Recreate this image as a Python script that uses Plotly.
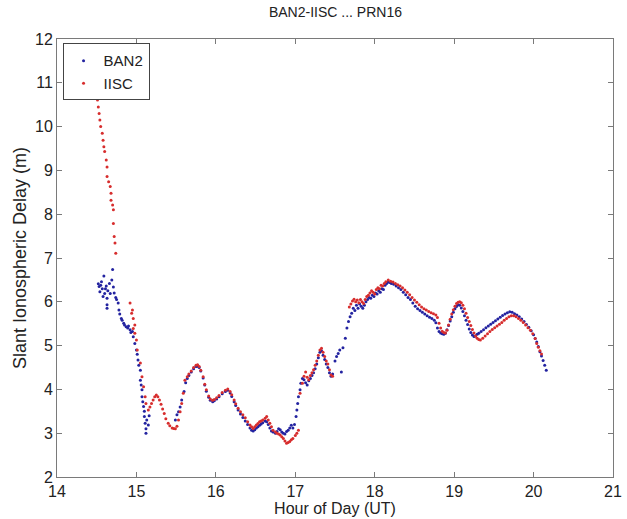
import plotly.graph_objects as go

# ---- IISC (red) ----
iisc_hour = [
    14.50, 14.50, 14.51, 14.52, 14.53, 14.54, 14.55, 14.57, 14.58, 14.59, 14.60, 14.62,
    14.63, 14.63, 14.65, 14.67, 14.68, 14.68, 14.70, 14.71, 14.71, 14.72, 14.73, 14.74,
    14.92, 14.94, 14.95, 14.96, 14.96, 14.98, 14.98, 15.00, 15.01, 15.05, 15.07, 15.09,
    15.11, 15.12, 15.15, 15.17, 15.19, 15.21, 15.23, 15.25, 15.27, 15.29, 15.31, 15.33,
    15.35, 15.37, 15.40, 15.42, 15.45, 15.47, 15.49, 15.51, 15.53, 15.55, 15.57, 15.59,
    15.61, 15.64, 15.66, 15.69, 15.72, 15.75, 15.77, 15.79, 15.81, 15.84, 15.86, 15.88,
    15.91, 15.93, 15.96, 15.98, 16.01, 16.04, 16.08, 16.12, 16.15, 16.18, 16.20, 16.23,
    16.25, 16.28, 16.31, 16.34, 16.37, 16.40, 16.43, 16.45, 16.47, 16.49, 16.51, 16.53,
    16.55, 16.57, 16.59, 16.62, 16.64, 16.66, 16.68, 16.70, 16.72, 16.75, 16.77, 16.79,
    16.81, 16.83, 16.85, 16.87, 16.89, 16.91, 16.93, 16.95, 16.97, 17.00, 17.02, 17.04,
    17.06, 17.09, 17.11, 17.13, 17.15, 17.17, 17.19, 17.21, 17.23, 17.25, 17.27, 17.29,
    17.31, 17.33, 17.35, 17.37, 17.39, 17.41, 17.43, 17.45, 17.47,
    17.68, 17.70, 17.72, 17.74, 17.76, 17.78, 17.80, 17.82, 17.84, 17.86, 17.88, 17.90,
    17.92, 17.94, 17.96, 17.98, 18.00, 18.02, 18.04, 18.06, 18.08, 18.10, 18.12, 18.14,
    18.17, 18.20, 18.23, 18.26, 18.29, 18.32, 18.35, 18.38, 18.41, 18.44, 18.47, 18.50,
    18.53, 18.56, 18.59, 18.62, 18.65, 18.68, 18.71, 18.74, 18.77, 18.79, 18.81, 18.83,
    18.85, 18.87, 18.89, 18.91, 18.93, 18.95, 18.97, 18.99, 19.01, 19.03, 19.05, 19.07,
    19.09, 19.11, 19.13, 19.15, 19.17, 19.19, 19.21, 19.23, 19.25, 19.27, 19.29, 19.31,
    19.33, 19.36, 19.39, 19.42, 19.45, 19.48, 19.51, 19.54, 19.57, 19.60, 19.63, 19.66,
    19.69, 19.72, 19.75, 19.78, 19.81, 19.84, 19.87, 19.90, 19.93, 19.96, 19.99, 20.02,
    20.04, 20.06, 20.08, 20.10,
]
iisc_delay = [
    10.90, 10.74, 10.61, 10.45, 10.30, 10.15, 10.00, 9.85, 9.69, 9.54, 9.43, 9.24,
    9.08, 8.86, 8.74, 8.63, 8.48, 8.32, 8.21, 8.10, 7.79, 7.49, 7.34, 7.11,
    5.97, 5.74, 5.81, 5.62, 5.39, 5.47, 5.28, 5.13, 4.90, 4.60, 4.29, 4.06,
    3.83, 3.68, 3.53, 3.60, 3.68, 3.76, 3.83, 3.87, 3.83, 3.76, 3.66, 3.55,
    3.45, 3.33, 3.23, 3.17, 3.12, 3.11, 3.10, 3.16, 3.30, 3.49, 3.68, 3.91,
    4.21, 4.29, 4.35, 4.42, 4.50, 4.55, 4.56, 4.52, 4.44, 4.29, 4.12, 3.99,
    3.85, 3.78, 3.75, 3.77, 3.81, 3.86, 3.93, 3.98, 4.01, 3.95, 3.88, 3.76,
    3.67, 3.57, 3.49, 3.42, 3.35, 3.26, 3.19, 3.15, 3.11, 3.15, 3.19, 3.22,
    3.26, 3.28, 3.30, 3.34, 3.38, 3.30, 3.23, 3.15, 3.07, 3.03, 3.00, 2.98,
    2.96, 2.92, 2.88, 2.82, 2.77, 2.79, 2.81, 2.85, 2.88, 2.95, 3.00, 3.07,
    3.91, 4.14, 4.30, 4.40, 4.28, 4.22, 4.32, 4.38, 4.45, 4.55, 4.65, 4.78,
    4.90, 4.94, 4.85, 4.75, 4.65, 4.58, 4.45, 4.33, 4.30,
    5.88, 5.95, 6.02, 6.06, 6.00, 6.04, 5.98, 6.05, 6.00, 5.96, 6.05, 6.12,
    6.15, 6.20, 6.25, 6.22, 6.18, 6.28, 6.32, 6.30, 6.38, 6.36, 6.42, 6.46,
    6.50, 6.47, 6.45, 6.42, 6.39, 6.36, 6.32, 6.27, 6.22, 6.16, 6.10, 6.04,
    5.99, 5.93, 5.88, 5.84, 5.81, 5.78, 5.75, 5.73, 5.70, 5.64, 5.51, 5.40,
    5.33, 5.30, 5.29, 5.35, 5.47, 5.60, 5.72, 5.82, 5.90, 5.96, 5.99, 6.00,
    5.98, 5.92, 5.84, 5.74, 5.64, 5.55, 5.46, 5.37, 5.29, 5.22, 5.17, 5.14,
    5.13, 5.17, 5.22, 5.27, 5.32, 5.37, 5.41, 5.45, 5.49, 5.53, 5.58, 5.62,
    5.66, 5.68, 5.68, 5.66, 5.62, 5.58, 5.53, 5.47, 5.41, 5.35, 5.27, 5.16,
    5.05, 4.96, 4.88, 4.81,
]

# ---- BAN2 (blue) ----
ban2_hour = [
    14.52, 14.53, 14.54, 14.55, 14.56, 14.57, 14.58, 14.59, 14.60, 14.61, 14.62, 14.63,
    14.63, 14.63, 14.64, 14.66, 14.67, 14.69, 14.70, 14.71, 14.72, 14.74, 14.75, 14.77,
    14.78, 14.79, 14.81, 14.82, 14.84, 14.85, 14.87, 14.89, 14.90, 14.92, 14.93, 14.95,
    14.96, 14.98, 15.00, 15.01, 15.02, 15.03, 15.05, 15.05, 15.06, 15.07, 15.07, 15.08,
    15.09, 15.10, 15.10, 15.11, 15.12, 15.12, 15.13, 15.15, 15.16,
    15.49, 15.51, 15.53, 15.55, 15.57, 15.60, 15.62, 15.64, 15.66, 15.69, 15.72, 15.75,
    15.77, 15.79, 15.81, 15.84, 15.86, 15.88, 15.91, 15.93, 15.96, 15.98, 16.01, 16.04,
    16.08, 16.12, 16.15, 16.18, 16.20, 16.23, 16.25, 16.28, 16.31, 16.34, 16.37, 16.40,
    16.43, 16.45, 16.47, 16.49, 16.51, 16.53, 16.55, 16.57, 16.59, 16.62, 16.64, 16.66,
    16.68, 16.70, 16.72, 16.75, 16.77, 16.79, 16.81, 16.83, 16.85, 16.87, 16.89, 16.91,
    16.93, 16.95, 16.97, 16.99, 17.01, 17.02, 17.03, 17.04, 17.06, 17.07, 17.09, 17.11,
    17.13, 17.15, 17.17, 17.19, 17.21, 17.23, 17.25, 17.27, 17.29, 17.31, 17.33, 17.35,
    17.37, 17.39, 17.41, 17.43, 17.45, 17.47, 17.50, 17.52, 17.54, 17.56, 17.58, 17.60,
    17.63, 17.65, 17.67, 17.69, 17.71, 17.73, 17.75, 17.77, 17.79, 17.81, 17.83, 17.85,
    17.87, 17.89, 17.91, 17.93, 17.95, 17.97, 17.99, 18.01, 18.03, 18.05, 18.07, 18.09,
    18.11, 18.13, 18.15, 18.17, 18.19, 18.21, 18.24, 18.27, 18.30, 18.33, 18.36, 18.39,
    18.42, 18.45, 18.48, 18.51, 18.54, 18.57, 18.60, 18.63, 18.66, 18.69, 18.72, 18.75,
    18.77, 18.79, 18.81, 18.83, 18.85, 18.87, 18.89, 18.91, 18.93, 18.95, 18.97, 18.99,
    19.01, 19.03, 19.05, 19.07, 19.09, 19.11, 19.13, 19.15, 19.17, 19.19, 19.21, 19.23,
    19.25, 19.27, 19.29, 19.31, 19.34, 19.37, 19.40, 19.43, 19.46, 19.49, 19.52, 19.55,
    19.58, 19.61, 19.64, 19.67, 19.70, 19.73, 19.76, 19.79, 19.82, 19.85, 19.88, 19.91,
    19.94, 19.97, 20.00, 20.02, 20.04, 20.06, 20.08, 20.10, 20.12, 20.14, 20.16,
]
ban2_delay = [
    6.41, 6.35, 6.23, 6.38, 6.46, 6.30, 6.12, 6.59, 6.19, 6.30, 6.36, 6.08,
    5.93, 5.85, 6.25, 6.42, 6.19, 6.50, 6.74, 6.34, 6.20, 6.10, 6.05, 5.97,
    5.81, 5.72, 5.62, 5.58, 5.51, 5.47, 5.43, 5.40, 5.45, 5.36, 5.30, 5.32,
    5.20, 5.05, 4.90, 4.80, 4.67, 4.55, 4.44, 4.21, 4.10, 3.99, 3.83, 3.72,
    3.61, 3.50, 3.38, 3.23, 3.10, 3.00, 3.30, 3.19, 3.40,
    3.30, 3.42, 3.49, 3.60, 3.76, 3.95, 4.15, 4.25, 4.32, 4.40, 4.47, 4.52,
    4.53, 4.50, 4.42, 4.26, 4.10, 3.96, 3.82, 3.75, 3.72, 3.74, 3.78, 3.83,
    3.90, 3.95, 3.98, 3.92, 3.84, 3.72, 3.63, 3.53, 3.44, 3.36, 3.28, 3.20,
    3.12, 3.07, 3.05, 3.08, 3.12, 3.15, 3.18, 3.21, 3.24, 3.28, 3.26, 3.20,
    3.12, 3.05, 3.03, 3.00, 3.04, 3.10, 3.08, 3.03, 3.00, 2.98, 3.04, 3.07,
    3.12, 3.18, 3.12, 3.20, 3.38, 3.53, 3.68, 3.83, 3.99, 4.14, 4.25, 4.22,
    4.15, 4.10, 4.20, 4.25, 4.32, 4.38, 4.47, 4.58, 4.72, 4.85, 4.88, 4.78,
    4.68, 4.58, 4.50, 4.38, 4.30, 4.35, 4.65, 4.75, 4.82, 4.90, 4.40, 4.95,
    5.17, 5.40, 5.55, 5.66, 5.74, 5.85, 5.80, 5.92, 5.85, 5.95, 5.90, 5.85,
    5.92, 6.00, 6.05, 6.10, 6.08, 6.15, 6.12, 6.20, 6.18, 6.25, 6.22, 6.30,
    6.28, 6.38, 6.42, 6.45, 6.44, 6.42, 6.40, 6.36, 6.32, 6.28, 6.22, 6.16,
    6.10, 6.05, 5.97, 5.90, 5.84, 5.80, 5.76, 5.72, 5.68, 5.65, 5.62, 5.58,
    5.52, 5.40, 5.32, 5.29, 5.27, 5.26, 5.28, 5.36, 5.46, 5.56, 5.66, 5.76,
    5.84, 5.89, 5.93, 5.92, 5.86, 5.78, 5.68, 5.58, 5.48, 5.38, 5.30, 5.24,
    5.21, 5.22, 5.26, 5.28, 5.32, 5.36, 5.41, 5.45, 5.49, 5.53, 5.57, 5.61,
    5.65, 5.69, 5.72, 5.75, 5.77, 5.76, 5.73, 5.70, 5.66, 5.61, 5.55, 5.48,
    5.42, 5.34, 5.25, 5.16, 5.08, 4.98, 4.86, 4.76, 4.66, 4.55, 4.44,
]

x_ticks = [14, 15, 16, 17, 18, 19, 20, 21]
y_ticks = [2, 3, 4, 5, 6, 7, 8, 9, 10, 11, 12]

FONT = "Liberation Sans, Arial, sans-serif"

fig = go.Figure()
fig.add_trace(go.Scatter(
    x=ban2_hour, y=ban2_delay, mode="markers", name="BAN2",
    marker=dict(color="rgb(35,35,160)", size=3),
))
fig.add_trace(go.Scatter(
    x=iisc_hour, y=iisc_delay, mode="markers", name="IISC",
    marker=dict(color="rgb(215,45,45)", size=3),
))

axis_common = dict(
    showgrid=False, zeroline=False, showline=True, linecolor="#7a7a7a", linewidth=1,
    mirror="ticks", ticks="inside", ticklen=5, tickcolor="#7a7a7a", automargin=False,
    tickfont=dict(family=FONT, size=16, color="#222"),
)

fig.update_layout(
    width=627, height=519,
    margin=dict(l=57, r=14, t=39, b=42),
    paper_bgcolor="white", plot_bgcolor="white",
    title=dict(text="BAN2-IISC ... PRN16", x=0.535, xanchor="center", y=0.977, yanchor="middle",
               font=dict(family=FONT, size=14, color="#222")),
    xaxis=dict(range=[14, 21], tickvals=x_ticks, ticktext=[str(v) for v in x_ticks],
               title=dict(text="Hour of Day (UT)", standoff=0,
                          font=dict(family=FONT, size=16, color="#222")),
               **axis_common),
    yaxis=dict(range=[2, 12], tickvals=y_ticks, ticktext=[str(v) for v in y_ticks],
               title=dict(text="Slant Ionospheric Delay (m)", standoff=3,
                          font=dict(family=FONT, size=18, color="#222")),
               **axis_common),
    legend=dict(x=0.01, y=0.99, xanchor="left", yanchor="top",
                bgcolor="white", bordercolor="#444", borderwidth=1,
                font=dict(family=FONT, size=15, color="#222"),
                itemsizing="trace", tracegroupgap=0),
    showlegend=True,
)

fig.write_html("out.html")
